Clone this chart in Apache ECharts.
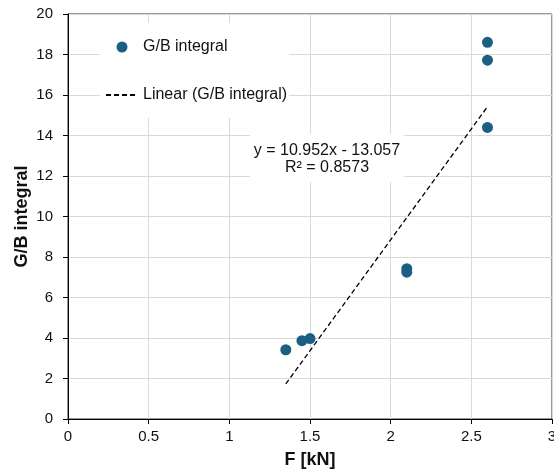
<!DOCTYPE html>
<html>
<head>
<meta charset="utf-8">
<script src="https://cdn.jsdelivr.net/npm/echarts@6/dist/echarts.min.js"></script>
<style>
  html, body { margin: 0; padding: 0; background: #fff; }
  #main { width: 554px; height: 472px; }
</style>
</head>
<body>
<div id="main"></div>
<script>
// measured points, F [kN] vs G/B integral
const forceKN = [1.35, 1.45, 1.5, 2.1, 2.1, 2.6, 2.6, 2.6];
const gbIntegral = [3.42, 3.87, 3.97, 7.42, 7.25, 18.6, 17.72, 14.4];

// Excel linear trendline, drawn between first and last x
const trendX = [1.35, 2.6];
const trendY = [1.73, 15.42];
const trendLabel = ['y = 10.952x - 13.057', 'R² = 0.8573'];

const seriesName = 'G/B integral';
const trendName = 'Linear (G/B integral)';

const font = 'Liberation Sans, Arial, sans-serif';
const dotColor = '#1c5f83';

const chart = echarts.init(document.getElementById('main'));

const option = {
  backgroundColor: '#fff',
  animation: false,
  textStyle: { fontFamily: font },
  grid: {
    left: 68, right: 2, top: 14, bottom: 53,
    outerBoundsMode: 'none',
    show: true, borderColor: '#333', borderWidth: 1,
    backgroundColor: 'transparent'
  },
  legend: {
    orient: 'vertical',
    left: 100, top: 23,
    backgroundColor: '#fff',
    padding: [16, 2, 15, 5],
    itemGap: 32,
    itemWidth: 32, itemHeight: 11,
    textStyle: { fontSize: 16, color: '#111', fontFamily: font, lineHeight: 16 },
    data: [
      { name: seriesName, icon: 'circle', itemStyle: { color: dotColor } },
      { name: trendName, itemStyle: { opacity: 0 } }
    ]
  },
  xAxis: {
    type: 'value',
    min: 0, max: 3, interval: 0.5,
    name: 'F [kN]',
    nameLocation: 'middle',
    nameGap: 32,
    nameMoveOverlap: false,
    nameTextStyle: { fontSize: 18, fontWeight: 'bold', color: '#111', fontFamily: font },
    axisLine: { show: true, lineStyle: { color: '#000', width: 1 } },
    axisTick: { show: true, length: 5, lineStyle: { color: '#000' } },
    axisLabel: { fontSize: 15, color: '#111', margin: 10, fontFamily: font },
    splitLine: { show: true, lineStyle: { color: '#d9d9d9', width: 1 } }
  },
  yAxis: {
    type: 'value',
    min: 0, max: 20, interval: 2,
    name: 'G/B integral',
    nameLocation: 'middle',
    nameGap: 37,
    nameMoveOverlap: false,
    nameTextStyle: { fontSize: 18, fontWeight: 'bold', color: '#111', fontFamily: font },
    axisLine: { show: true, lineStyle: { color: '#000', width: 1 } },
    axisTick: { show: true, length: 5, lineStyle: { color: '#000' } },
    axisLabel: { fontSize: 15, color: '#111', margin: 15, fontFamily: font },
    splitLine: { show: true, lineStyle: { color: '#d9d9d9', width: 1 } }
  },
  graphic: [
    {
      type: 'text',
      x: 327, y: 134,
      z: 50,
      style: {
        text: trendLabel.join('\n'),
        align: 'center',
        verticalAlign: 'top',
        fill: '#111',
        font: '16px ' + font,
        lineHeight: 17,
        backgroundColor: '#fff',
        padding: [8, 4, 6, 4]
      }
    }
  ],
  series: [
    {
      name: trendName,
      type: 'line',
      data: trendX.map((x, i) => [x, trendY[i]]),
      symbol: 'none',
      lineStyle: { color: '#000', width: 1.3, type: [5, 3] },
      itemStyle: { color: '#000' },
      z: 3
    },
    {
      name: seriesName,
      type: 'scatter',
      data: forceKN.map((x, i) => [x, gbIntegral[i]]),
      symbol: 'circle',
      symbolSize: 11,
      itemStyle: { color: dotColor, opacity: 1 },
      z: 4
    }
  ]
};

chart.setOption(option);
</script>
</body>
</html>
